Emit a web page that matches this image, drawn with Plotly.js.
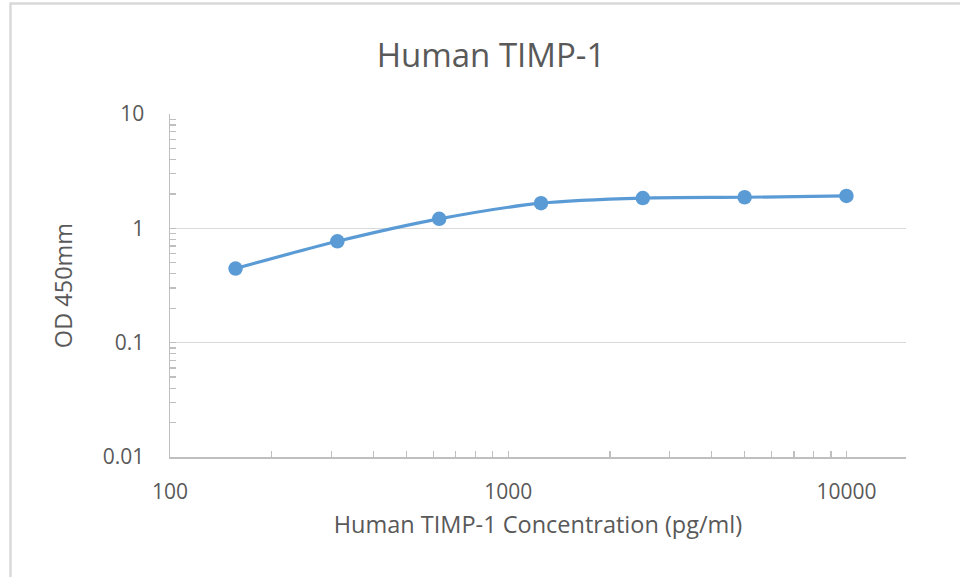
<!DOCTYPE html>
<html>
<head>
<meta charset="utf-8">
<script src="https://cdn.plot.ly/plotly-3.0.1.min.js"></script>
<style>
  html, body { margin: 0; padding: 0; background: #ffffff; }
  #chart { width: 960px; height: 577px; }
</style>
</head>
<body>
<div id="chart"></div>
<script>
// Data
const concentration = [156.25, 312.5, 625, 1250, 2500, 5000, 10000];
const od450 = [0.445, 0.77, 1.21, 1.66, 1.84, 1.87, 1.92];

const xTickVals = [100, 1000, 10000];
const xTickText = ["100", "1000", "10000"];
const yTickVals = [0.01, 0.1, 1, 10];
const yTickText = ["0.01", "0.1", "1", "10"];

const chartTitle = "Human TIMP-1";
const xTitle = "Human TIMP-1 Concentration (pg/ml)";
const yTitle = "OD 450mm";

const FONT = "Open Sans, Liberation Sans, sans-serif";
const TEXT = "#595959";
const BLUE = "#5B9BD5";

const trace = {
  x: concentration,
  y: od450,
  type: "scatter",
  mode: "lines+markers",
  line: { color: BLUE, width: 3.2, shape: "spline", smoothing: 0.8 },
  marker: { color: BLUE, size: 14.5 },
  hoverinfo: "x+y",
  showlegend: false
};

const W = 960, H = 577;
const L = 170, R = 54, T = 114, B = 120;
const pw = W - L - R, ph = H - T - B;
const px2x = p => (p - L) / pw;
const py2y = p => (H - B - p) / ph;

const layout = {
  width: W,
  height: H,
  paper_bgcolor: "#ffffff",
  plot_bgcolor: "#ffffff",
  margin: { l: L, r: R, t: T, b: B, pad: 0 },
  font: { family: FONT, color: TEXT, size: 20 },
  title: {
    text: chartTitle,
    font: { family: FONT, size: 33, color: TEXT },
    x: 491 / W,
    xref: "container",
    xanchor: "center",
    y: 1 - 55 / H,
    yref: "container",
    yanchor: "middle"
  },
  xaxis: {
    type: "log",
    range: [2, Math.log10(15000)],
    autorange: false,
    tickvals: xTickVals,
    ticktext: xTickText,
    ticks: "inside",
    ticklen: 6,
    tickcolor: "#bfbfbf",
    tickwidth: 1.3,
    showline: true,
    linecolor: "#bfbfbf",
    linewidth: 1.5,
    showgrid: false,
    zeroline: false,
    tickfont: { family: FONT, size: 21, color: TEXT },
    ticklabelstandoff: 15,
    minor: { ticks: "inside", ticklen: 6, tickcolor: "#bfbfbf", tickwidth: 1.3, dtick: "D1", showgrid: false },
    title: { text: xTitle, font: { family: FONT, size: 23.5, color: TEXT }, standoff: 13 },
    automargin: false,
    fixedrange: true
  },
  yaxis: {
    type: "log",
    range: [-2, 1],
    autorange: false,
    tickvals: yTickVals,
    ticktext: yTickText,
    ticks: "inside",
    ticklen: 6,
    tickcolor: "#bfbfbf",
    tickwidth: 1.3,
    showline: true,
    linecolor: "#bfbfbf",
    linewidth: 1.5,
    showgrid: true,
    gridcolor: "#d9d9d9",
    gridwidth: 1.3,
    zeroline: false,
    tickfont: { family: FONT, size: 21, color: TEXT },
    ticklabelstandoff: 20,
    minor: { ticks: "inside", ticklen: 6, tickcolor: "#bfbfbf", tickwidth: 1.3, dtick: "D1", showgrid: false },
    title: { text: yTitle, font: { family: FONT, size: 23.5, color: TEXT }, standoff: 23 },
    automargin: false,
    fixedrange: true
  },
  shapes: [
    {
      type: "path",
      xref: "paper",
      yref: "paper",
      path: "M " + px2x(10.5) + "," + py2y(600) + " L " + px2x(10.5) + "," + py2y(3.5) + " L " + px2x(1000) + "," + py2y(3.5),
      line: { color: "#d9d9d9", width: 2.5 },
      layer: "below"
    }
  ]
};

Plotly.newPlot("chart", [trace], layout, { displayModeBar: false, staticPlot: true });
</script>
</body>
</html>
